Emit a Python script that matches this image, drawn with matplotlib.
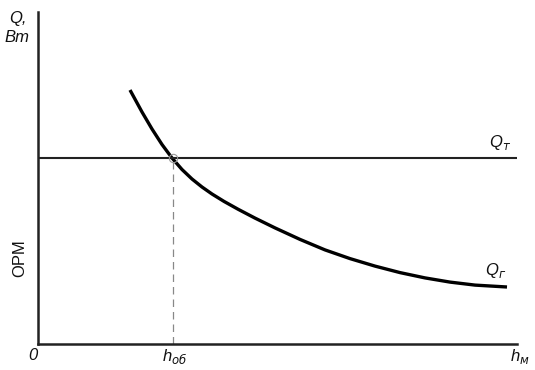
import matplotlib
matplotlib.use("Agg")
import matplotlib.pyplot as plt

# heat flow curve Q_г vs h_м (arbitrary units, origin at axis corner)
H_CURVE = [92, 104, 114, 124, 134, 144, 154, 164, 174, 186, 200, 217, 237, 262,
           287, 312, 337, 362, 387, 412, 437, 469]
Q_CURVE = [254, 232, 215, 199.5, 186, 174.5, 165, 157, 150, 142.6, 134.8, 125.9,
           116.1, 104.6, 94.1, 85.4, 77.9, 71.4, 66.1, 61.9, 58.9, 57]
Q_T = 186          # constant level Q_т
H_OB = 135         # intersection abscissa h_об
X_MAX, Y_MAX = 479, 332

plt.rcParams["font.family"] = ["Liberation Sans", "DejaVu Sans"]
fig = plt.figure(figsize=(5.35, 3.7), dpi=100)
ax = fig.add_axes([38 / 535, 26 / 370, 479 / 535, 332 / 370])
ax.set_xlim(0, X_MAX); ax.set_ylim(0, Y_MAX)
for s in ("top", "right"):
    ax.spines[s].set_visible(False)
for s in ("left", "bottom"):
    ax.spines[s].set_linewidth(1.8); ax.spines[s].set_color("#222222")
ax.set_xticks([]); ax.set_yticks([])

ax.plot(H_CURVE, Q_CURVE, color="black", lw=2.4, solid_capstyle="butt",
        solid_joinstyle="round", clip_on=False)
ax.axhline(Q_T, color="#222222", lw=1.5)
ax.plot([H_OB, H_OB], [0, Q_T], color="#888888", lw=0.9, ls=(0, (6, 4)))
ax.plot([H_OB], [Q_T], marker="o", ms=6, mfc="none", mec="#999999", mew=0.8)

kw = dict(fontsize=12, style="italic", color="#111111")
fig.text(18 / 535, 1 - 18 / 370, "Q,", ha="center", va="center", **kw)
fig.text(17 / 535, 1 - 38 / 370, "Вт", ha="center", va="center", **kw)
fig.text(20 / 535, 1 - 258 / 370, "ОРМ", rotation=90, ha="center", va="center",
         fontsize=12, color="#111111")
fig.text(33 / 535, 1 - 355 / 370, "0", ha="center", va="center", **kw)
fig.text(175 / 535, 1 - 356 / 370, "h$_{об}$", ha="center", va="center", **kw)
fig.text(520 / 535, 1 - 356 / 370, "h$_{м}$", ha="center", va="center", **kw)
fig.text(500 / 535, 1 - 142 / 370, "Q$_{т}$", ha="center", va="center", **kw)
fig.text(496 / 535, 1 - 270 / 370, "Q$_{г}$", ha="center", va="center", **kw)

fig.savefig("out.png", dpi=100)
